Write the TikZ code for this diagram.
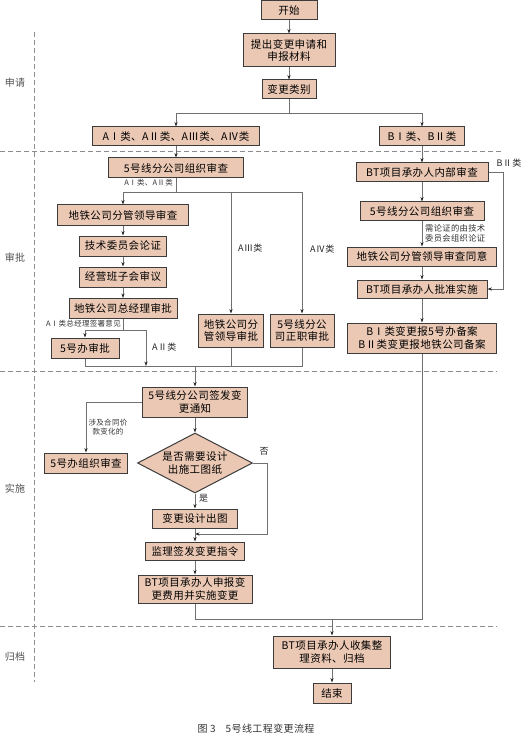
\documentclass[tikz,border=0pt]{standalone}
\usepackage{fontspec}
\setmainfont[LetterSpace=4]{Noto Sans CJK SC}
\usepackage{tikz}
\usetikzlibrary{arrows.meta,positioning,shapes.geometric}
\definecolor{chgfill}{HTML}{EBC8B4}
\definecolor{chgline}{HTML}{3C3C3C}
\definecolor{chgflow}{HTML}{707070}
\definecolor{chgsep}{HTML}{8C8C8C}
\definecolor{chgtext}{HTML}{505050}

\begin{document}
\begin{tikzpicture}[x=1pt,y=-1pt,
  box/.style={draw=chgline,fill=chgfill,line width=1pt,align=center,font=\fontsize{10.5}{12.5}\selectfont,inner sep=0pt,minimum height=19pt,text=black},
  dec/.style={box,diamond,aspect=1.9},
  flow/.style={draw=chgflow,line width=0.7pt,->},
  link/.style={draw=chgflow,line width=0.7pt},
  sep/.style={draw=chgsep,line width=0.6pt,dash pattern=on 5pt off 3pt},
  tag/.style={font=\fontsize{7.5}{9}\selectfont,text=black!80,inner sep=0pt},
  lbl/.style={font=\fontsize{9}{11}\selectfont,text=black!85,inner sep=0pt},
  sec/.style={font=\fontsize{10}{12}\selectfont,text=chgtext},
  >={Stealth[length=4.5pt,width=3.2pt,color=black!85]}]
  \useasboundingbox (0,0) rectangle (530,743);
  \draw[sep] (0,151) -- (503,151);
  \draw[sep] (0,371) -- (497,371);
  \draw[sep] (0,626) -- (497,626);
  \draw[sep] (34,32) -- (34,682);
  \node[sec] (secA) at (15,83) {申请};
  \node[sec] (secB) at (15,258) {审批};
  \node[sec] (secC) at (15,489) {实施};
  \node[sec] (secD) at (15,657) {归档};

  \node[box,minimum width=56pt] (start) at (289,10.5) {开始};
  \node[box,minimum width=92pt,minimum height=33pt] (apply) at (289,50.5) {提出变更申请和\\申报材料};
  \node[box,minimum width=54pt] (kind) at (289,89.5) {变更类别};
  \node[box,minimum width=167pt] (acls) at (176,136.5) {AⅠ类、AⅡ类、AⅢ类、AⅣ类};
  \node[box,minimum width=85pt] (bcls) at (422,136.5) {BⅠ类、BⅡ类};

  \node[box,minimum width=135pt,minimum height=20pt] (sub) at (176,168) {5号线分公司组织审查};
  \node[box,minimum width=131pt,minimum height=20pt] (lead) at (123,215) {地铁公司分管领导审查};
  \node[box,minimum width=87pt,minimum height=20pt] (tech) at (123,246) {技术委员会论证};
  \node[box,minimum width=87pt,minimum height=20pt] (mgmt) at (123,277) {经营班子会审议};
  \node[box,minimum width=108pt,minimum height=20pt] (gm) at (123,308.5) {地铁公司总经理审批};
  \node[box,minimum width=68pt,minimum height=20pt] (off5) at (85,348) {5号办审批};
  \node[box,minimum width=65pt,minimum height=33pt] (leadA) at (231,330.5) {地铁公司分\\管领导审批};
  \node[box,minimum width=64pt,minimum height=33pt] (chief) at (302,330.5) {5号线分公\\司正职审批};

  \node[box,minimum width=132pt] (btin) at (422,172.5) {BT项目承办人内部审查};
  \node[box,minimum width=124pt,minimum height=18pt] (subB) at (422,211) {5号线分公司组织审查};
  \node[box,minimum width=149pt] (leadB) at (422,256.5) {地铁公司分管领导审查同意};
  \node[box,minimum width=130pt,minimum height=18pt] (btok) at (422,289) {BT项目承办人批准实施};
  \node[box,minimum width=149pt,minimum height=30pt] (bfile) at (422,338) {BⅠ类变更报5号办备案\\BⅡ类变更报地铁公司备案};

  \node[box,minimum width=105pt,minimum height=30pt] (notice) at (195,402) {5号线分公司签发变\\更通知};
  \node[box,minimum width=83pt,minimum height=20pt] (off5c) at (86,463) {5号办组织审查};
  \node[dec,minimum width=115pt,minimum height=60pt] (need) at (195,463) {是否需要设计\\出施工图纸};
  \node[box,minimum width=85pt] (design) at (195,518.5) {变更设计出图};
  \node[box,minimum width=99pt,minimum height=18pt] (super) at (195,551) {监理签发变更指令};
  \node[box,minimum width=114pt,minimum height=28pt] (btimpl) at (195,589) {BT项目承办人申报变\\更费用并实施变更};
  \node[box,minimum width=117pt,minimum height=32pt] (arch) at (332,652) {BT项目承办人收集整\\理资料、归档};
  \node[box,minimum width=38pt,minimum height=20pt] (stop) at (332,693) {结束};

  \coordinate (bus) at (289,113);
  \draw[flow] (start) -- (apply); \draw[flow] (apply) -- (kind);
  \draw[link] (kind) -- (bus); \draw[flow] (bus) -| (acls); \draw[flow] (bus) -| (bcls);

  \draw[flow] (acls) -- (sub);
  \coordinate (asp) at (176,192);
  \draw[link] (sub) -- (asp);
  \draw[flow] (asp) -| (lead); \draw[flow] (asp) -| (leadA); \draw[flow] (asp) -| (chief);
  \node[tag,anchor=east] (tA12) at (173,183) {AⅠ类、AⅡ类};
  \node[lbl,anchor=west] (tA3) at (238,248) {AⅢ类};
  \node[lbl,anchor=west] (tA4) at (310,249) {AⅣ类};
  \draw[flow] (lead) -- (tech); \draw[flow] (tech) -- (mgmt); \draw[flow] (mgmt) -- (gm);
  \coordinate (gsp) at (123,330);
  \coordinate (a2) at (146,366);
  \draw[link] (gm) -- (gsp); \draw[flow] (gsp) -| (off5); \draw[flow] (gsp) -| (a2);
  \node[tag,anchor=east] (tA1) at (121,324) {AⅠ类总经理签署意见};
  \node[lbl,anchor=west] (tA2) at (152,347) {AⅡ类};
  \coordinate (mrg) at (195,366);
  \draw[link] (off5) |- (mrg); \draw[link] (leadA) |- (mrg); \draw[link] (chief) |- (mrg);
  \draw[flow] (mrg) -- (notice);

  \draw[flow] (bcls) -- (btin); \draw[flow] (btin) -- (subB); \draw[flow] (subB) -- (leadB);
  \draw[flow] (leadB) -- (btok); \draw[flow] (btok) -- (bfile);
  \coordinate (bbp) at (503,172.5);
  \draw[flow] (btin) -- (bbp) |- (btok);
  \node[lbl] (tB2) at (509,163) {BⅡ类};
  \node[tag,anchor=west,align=left,font=\fontsize{8.3}{9.5}\selectfont] (tBn) at (425,233.5) {需论证的由技术\\委员会组织论证};

  \draw[flow] (notice) -- (need);
  \draw[flow] (notice) -| (off5c);
  \node[tag,align=center] (tprice) at (108,427.5) {涉及合同价\\款变化的};
  \draw[flow] (need) -- (design);
  \node[lbl,anchor=west] (tyes) at (199,498) {是};
  \coordinate (nojn) at (195,534);
  \coordinate (nox) at (267,463);
  \draw[flow] (need) -- (nox) |- (nojn);
  \node[lbl] (tno) at (264,451) {否};
  \draw[flow] (design) -- (super); \draw[flow] (super) -- (btimpl);

  \coordinate (jn) at (332,619);
  \draw[link] (bfile) |- (jn); \draw[link] (btimpl) |- (jn);
  \draw[flow] (jn) -- (arch); \draw[flow] (arch) -- (stop);
  \node[font=\fontsize{10}{12}\selectfont,text=black!80] (cap) at (256,729) {图\ 3\quad 5号线工程变更流程};
\end{tikzpicture}
\end{document}
